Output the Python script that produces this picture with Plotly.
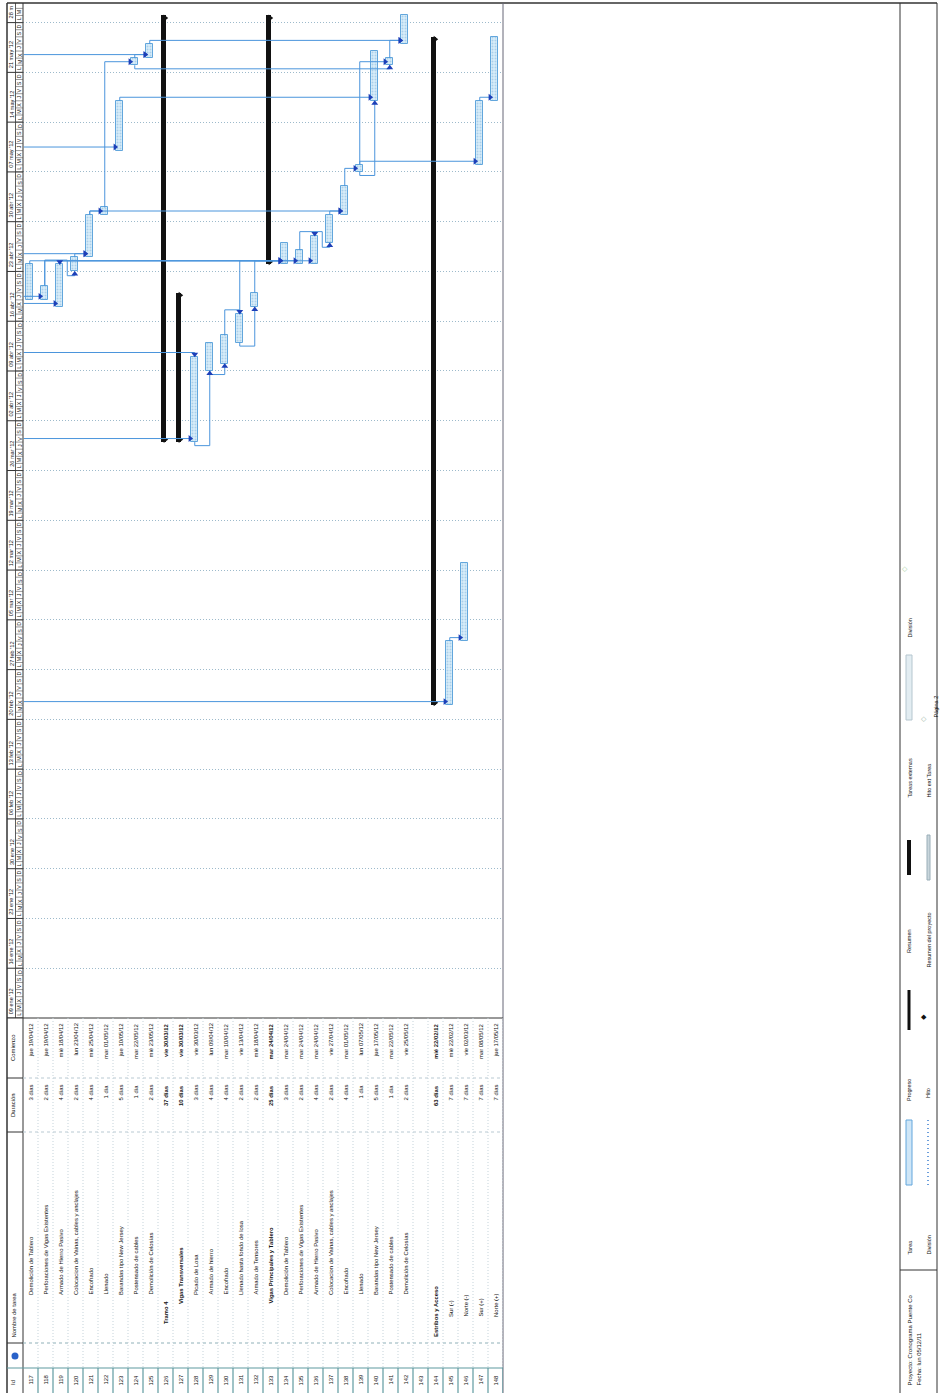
import plotly.graph_objects as go
from datetime import datetime, timedelta

W, H = 941, 1393
DAY_MS = 86400000

# ---------------- data ----------------
ids = list(range(117, 149))
names = [
    "Demolición de Tablero", "Perforaciones de Vigas Existentes", "Armado de Hierro Pasivo",
    "Colocacion de Vainas, cables y anclajes", "Encofrado", "Llenado", "Barandas tipo New Jersey",
    "Postensado de cables", "Demolición de Celosías", "Tramo 4", "Vigas Transversales",
    "Picado de Losa", "Armado de hierro", "Encofrado", "Llenado hasta fondo de losa",
    "Armado de Tensores", "Vigas Principales y Tablero", "Demolición de Tablero",
    "Perforaciones de Vigas Existentes", "Armado de Hierro Pasivo",
    "Colocacion de Vainas, cables y anclajes", "Encofrado", "Llenado", "Barandas tipo New Jersey",
    "Postensado de cables", "Demolición de Celosías", "", "Estribos y Acceso",
    "Sur (-)", "Norte (-)", "Sur (+)", "Norte (+)",
]
durations = [
    "3 días", "2 días", "4 días", "2 días", "4 días", "1 día", "5 días", "1 día", "2 días",
    "37 días", "10 días", "3 días", "4 días", "4 días", "2 días", "2 días", "25 días",
    "3 días", "2 días", "4 días", "2 días", "4 días", "1 día", "5 días", "1 día", "2 días",
    "", "63 días", "7 días", "7 días", "7 días", "7 días",
]
start_labels = [
    "jue 19/04/12", "jue 19/04/12", "mié 18/04/12", "lun 23/04/12", "mié 25/04/12",
    "mar 01/05/12", "jue 10/05/12", "mar 22/05/12", "mié 23/05/12", "vie 30/03/12",
    "vie 30/03/12", "vie 30/03/12", "lun 09/04/12", "mar 10/04/12", "vie 13/04/12",
    "mié 18/04/12", "mar 24/04/12", "mar 24/04/12", "mar 24/04/12", "mar 24/04/12",
    "vie 27/04/12", "mar 01/05/12", "lun 07/05/12", "jue 17/05/12", "mar 22/05/12",
    "vie 25/05/12", "", "mié 22/02/12", "mié 22/02/12", "vie 02/03/12", "mar 08/05/12",
    "jue 17/05/12",
]
# bar start / finish (finish = end of last working day)
bar_start = [
    "2012-04-19", "2012-04-19", "2012-04-18", "2012-04-23", "2012-04-25", "2012-05-01",
    "2012-05-10", "2012-05-22", "2012-05-23", "2012-03-30", "2012-03-30", "2012-03-30",
    "2012-04-09", "2012-04-10", "2012-04-13", "2012-04-18", "2012-04-24", "2012-04-24",
    "2012-04-24", "2012-04-24", "2012-04-27", "2012-05-01", "2012-05-07", "2012-05-17",
    "2012-05-22", "2012-05-25", None, "2012-02-22", "2012-02-22", "2012-03-02",
    "2012-05-08", "2012-05-17",
]
bar_end = [
    "2012-04-24", "2012-04-21", "2012-04-24", "2012-04-25", "2012-05-01", "2012-05-02",
    "2012-05-17", "2012-05-23", "2012-05-25", "2012-05-29", "2012-04-20", "2012-04-11",
    "2012-04-13", "2012-04-14", "2012-04-17", "2012-04-20", "2012-05-29", "2012-04-27",
    "2012-04-26", "2012-04-28", "2012-05-01", "2012-05-05", "2012-05-08", "2012-05-24",
    "2012-05-23", "2012-05-29", None, "2012-05-26", "2012-03-02", "2012-03-13",
    "2012-05-17", "2012-05-26",
]
kinds = ["task"] * 9 + ["summary", "summary"] + ["task"] * 5 + ["summary"] + ["task"] * 9 + \
        ["empty", "summary"] + ["task"] * 4
# outline level of each row (0 = top level)
levels = [3] * 9 + [1, 2] + [3] * 5 + [2] + [3] * 9 + [3, 0] + [1] * 4

# dependency links: (predecessor id or None for previous page, successor id, type)
links = [
    (None, 118, "OFF"), (None, 119, "OFF"), (117, 134, "FS"), (118, 135, "FS"), (119, 136, "FS"),
    (118, 119, "FF"), (119, 120, "FSN"), (120, 121, "FS"), (None, 121, "OFF"), (121, 122, "FS"),
    (121, 138, "FS"), (122, 124, "FS"), (None, 123, "OFF"), (123, 140, "FS"), (124, 125, "FS"),
    (None, 125, "OFF"), (125, 142, "FS"), (124, 141, "SS"), (None, 128, "OFF"), (None, 128, "FF"),
    (128, 129, "SS"), (129, 130, "SS"), (130, 131, "FF"), (131, 132, "SS"), (131, 134, "FS"),
    (132, 134, "FS"), (135, 136, "FF"), (136, 137, "FSN"), (137, 138, "FS"), (138, 139, "FS"),
    (139, 140, "SS"), (139, 141, "FS"), (139, 147, "FS"), (141, 142, "FS"), (None, 145, "OFF"),
    (145, 146, "FS"), (147, 148, "FS"),
]

week_labels = ["09 ene '12", "16 ene '12", "23 ene '12", "30 ene '12", "06 feb '12", "13 feb '12",
               "20 feb '12", "27 feb '12", "05 mar '12", "12 mar '12", "19 mar '12", "26 mar '12",
               "02 abr '12", "09 abr '12", "16 abr '12", "23 abr '12", "30 abr '12", "07 may '12",
               "14 may '12", "21 may '12", "28 m"]
day_letters = ["L", "M", "X", "J", "V", "S", "D"]

# ---------------- helpers ----------------
FONT = "Liberation Sans, Arial, sans-serif"
def PX(x): return x / W
def PY(y): return 1 - y / H
def D(s): return datetime.strptime(s, "%Y-%m-%d")
def sh(t, days): return t + timedelta(days=days)

T0 = datetime(2012, 1, 9)
PPD = 7.11
Y_BOTTOM, Y_TOP = 1018, 3
t_top = T0 + timedelta(days=(Y_BOTTOM - Y_TOP) / PPD)

fig = go.Figure()

idx = {r: i for i, r in enumerate(ids)}

# task bars
tx, tb, ty = [], [], []
sx, sb, sy = [], [], []
for r, k, s, e in zip(ids, kinds, bar_start, bar_end):
    if k == "empty":
        continue
    dur = (D(e) - D(s)).total_seconds() * 1000
    if k == "task":
        tx.append(r); tb.append(s); ty.append(dur)
    else:
        sx.append(r); sb.append(s); sy.append(dur)

fig.add_trace(go.Bar(
    x=tx, y=ty, base=tb, width=0.45, offset=-0.27,
    marker=dict(color="#cfe6f7", line=dict(color="#62a6dc", width=1),
                pattern=dict(shape=".", fgcolor="#7fb2dc", bgcolor="#d9edf9", size=3, solidity=0.35)),
    showlegend=False, hoverinfo="skip"))
fig.add_trace(go.Bar(
    x=sx, y=sy, base=sb, width=0.3, offset=-0.3,
    marker=dict(color="#111111", line=dict(width=0)),
    showlegend=False, hoverinfo="skip"))

# summary end caps
cx, cy = [], []
for r, k, s, e in zip(ids, kinds, bar_start, bar_end):
    if k == "summary":
        cx += [r - 0.02, r - 0.02]
        cy += [sh(D(e), -0.35), sh(D(s), 0.35)]
fig.add_trace(go.Scatter(x=cx, y=cy, mode="markers",
                         marker=dict(symbol="triangle-right", size=6, color="#111111"),
                         showlegend=False, hoverinfo="skip"))

# links
lx, ly = [], []
ax_r, ay_r = [], []   # arrows pointing right
ax_u, ay_u = [], []   # arrows pointing up
ax_d, ay_d = [], []   # arrows pointing down
LEFT = 116.55
for p, s, t in links:
    js = idx[s]
    xs = s - 0.05
    ss, es = D(bar_start[js]), D(bar_end[js])
    if p is not None:
        jp = idx[p]
        xp = p - 0.05
        sp, ep = D(bar_start[jp]), D(bar_end[jp])
    if t == "OFF":
        yh = sh(ss, 0.5)
        lx += [LEFT, s - 0.33, None]; ly += [yh, yh, None]
        ax_r.append(s - 0.36); ay_r.append(yh)
    elif t == "FS":
        yh = sh(max(ss, ep), 0.5)
        lx += [xp, xp, s - 0.33, None]; ly += [ep, yh, yh, None]
        ax_r.append(s - 0.36); ay_r.append(yh)
    elif t == "SS":
        yl = sh(sp, -0.5)
        lx += [xp, xp, xs, xs, None]; ly += [sp, yl, yl, ss, None]
        ax_u.append(xs); ay_u.append(sh(ss, -0.35))
    elif t == "FF":
        if p is None:
            yt = sh(es, 0.6)
            lx += [LEFT, xs, xs, None]; ly += [yt, yt, es, None]
        else:
            yt = sh(max(ep, es), 0.6)
            lx += [xp, xp, xs, xs, None]; ly += [ep, yt, yt, es, None]
        ax_d.append(xs); ay_d.append(sh(es, 0.35))
    elif t == "FSN":
        yt = sh(ep, 0.6)
        yl = sh(ss, -0.6)
        xm = (xp + xs) / 2
        lx += [xp, xp, xm, xm, xs, xs, None]; ly += [ep, yt, yt, yl, yl, ss, None]
        ax_u.append(xs); ay_u.append(sh(ss, -0.35))

fig.add_trace(go.Scatter(x=lx, y=ly, mode="lines", line=dict(color="#4b95dc", width=1),
                         showlegend=False, hoverinfo="skip"))
for axx, ayy, sym in [(ax_r, ay_r, "triangle-right"), (ax_u, ay_u, "triangle-up"),
                      (ax_d, ay_d, "triangle-down")]:
    fig.add_trace(go.Scatter(x=axx, y=ayy, mode="markers",
                             marker=dict(symbol=sym, size=6, color="#1d3fb8"),
                             showlegend=False, hoverinfo="skip"))

# ---------------- shapes ----------------
shapes = []
def line_px(x0, y0, x1, y1, color="#222", width=1, dash="solid"):
    shapes.append(dict(type="line", xref="paper", yref="paper", x0=PX(x0), y0=PY(y0),
                       x1=PX(x1), y1=PY(y1), line=dict(color=color, width=width, dash=dash)))

# frame
line_px(7, 3, 937, 3, "#333", 1.5)
line_px(7, 3, 7, H, "#333", 1.5)
line_px(503, 3, 503, H, "#667", 1)
line_px(900, 3, 900, H, "#333", 1)
line_px(937, 3, 937, H, "#333", 1)
line_px(23, 3, 23, H, "#333", 1)
line_px(15.5, 3, 15.5, 1018, "#333", 0.8)
# table column separators
line_px(7, 1018, 503, 1018, "#333", 1)
line_px(23, 1078, 503, 1078, "#b9c9d2", 1, "dot")
line_px(23, 1132, 503, 1132, "#b9c9d2", 1, "dot")
line_px(23, 1343, 503, 1343, "#8fb0b8", 1, "dot")
line_px(7, 1368, 503, 1368, "#5f9aa0", 1.2)
line_px(7, 1078, 23, 1078, "#333", 1)
line_px(7, 1132, 23, 1132, "#333", 1)
line_px(7, 1343, 23, 1343, "#333", 1)
# row separators
for r in ids:
    b = r + 0.5
    shapes.append(dict(type="line", xref="x", yref="paper", x0=b, x1=b, y0=PY(1018), y1=PY(1368),
                       line=dict(color="#c5d3da", width=1, dash="1px,2px")))
    shapes.append(dict(type="line", xref="x", yref="paper", x0=b, x1=b, y0=PY(1368), y1=PY(H),
                       line=dict(color="#5f9aa0", width=1.2)))
# timescale boxes
for w in range(len(week_labels)):
    t = sh(T0, 7 * w)
    shapes.append(dict(type="line", xref="paper", yref="y", x0=PX(7), x1=PX(23), y0=t, y1=t,
                       line=dict(color="#333", width=1)))
n_days = int((t_top - T0).days) + 1
for dd in range(n_days):
    t = sh(T0, dd)
    shapes.append(dict(type="line", xref="paper", yref="y", x0=PX(15.5), x1=PX(23), y0=t, y1=t,
                       line=dict(color="#555", width=0.6)))

# footer separators
line_px(900, 1270, 937, 1270, "#333", 1)

# ---------------- annotations ----------------
ann = []
def txt(x, y, text, xref="paper", yref="paper", size=5.9, ya="middle", xa="center", bold=False,
        color="#111"):
    if bold:
        text = "<b>" + text + "</b>"
    ann.append(dict(x=x, y=y, xref=xref, yref=yref, text=text, showarrow=False, textangle=-90,
                    xanchor=xa, yanchor=ya, font=dict(family=FONT, size=size, color=color)))

name_base = {0: 1339, 1: 1326, 2: 1306, 3: 1297}
for r, nm, du, st, k, lv in zip(ids, names, durations, start_labels, kinds, levels):
    bold = k == "summary"
    txt(r, PY(1380), str(r), xref="x", size=5.9)
    if nm:
        base = name_base[lv] if not (lv == 1 and k == "task") else 1319
        txt(r, PY(base), nm, xref="x", ya="bottom", bold=bold)
    if du:
        txt(r, PY(1083), du, xref="x", ya="top", bold=bold)
    if st:
        txt(r, PY(1022), st, xref="x", ya="top", bold=bold)

# header row
txt(PX(13), PY(1383), "Id")
txt(PX(13), PY(1340), "Nombre de tarea", ya="bottom")
txt(PX(13), PY(1105), "Duración")
txt(PX(13), PY(1048), "Comienzo")
shapes.append(dict(type="circle", xref="paper", yref="paper", x0=PX(11.5), x1=PX(18.5),
                   y0=PY(1359.5), y1=PY(1352.5), fillcolor="#2a62c9", line=dict(width=0)))
ann.append(dict(x=PX(15), y=PY(1356), xref="paper", yref="paper", text="<b>i</b>", showarrow=False,
                font=dict(family=FONT, size=5, color="white")))

# timescale labels
for w, lab in enumerate(week_labels):
    t = sh(T0, 7 * w)
    ann.append(dict(x=PX(11.3), y=t, xref="paper", yref="y", text=lab, showarrow=False,
                    textangle=-90, xanchor="center", yanchor="bottom", yshift=2,
                    font=dict(family=FONT, size=5.6, color="#111")))
for dd in range(n_days - 1):
    t = sh(T0, dd + 0.5)
    ann.append(dict(x=PX(19.3), y=t, xref="paper", yref="y", text=day_letters[dd % 7],
                    showarrow=False, textangle=-90, xanchor="center", yanchor="middle",
                    font=dict(family=FONT, size=5.3, color="#111")))

# footer legend
txt(PX(909), PY(1388), "Proyecto: Cronograma Puente Co", ya="bottom", size=6)
txt(PX(918), PY(1388), "Fecha: lun 05/12/11", ya="bottom", size=6)
legend_row1 = [("Tarea", 1257), ("Progreso", 1103), ("Resumen", 955), ("Tareas externas", 800),
               ("División", 640)]
legend_row2 = [("División", 1257), ("Hito", 1100), ("Resumen del proyecto", 970),
               ("Hito ext Tarea", 800)]
for lab, yb in legend_row1:
    txt(PX(909), PY(yb), lab, ya="bottom", size=5.5)
for lab, yb in legend_row2:
    txt(PX(928), PY(yb), lab, ya="bottom", size=5.5)
txt(PX(935.5), PY(720), "Página 2", ya="bottom", size=5.5)

# legend samples (decorative)
shapes.append(dict(type="rect", xref="paper", yref="paper", x0=PX(906), x1=PX(912), y0=PY(1185),
                   y1=PY(1120), fillcolor="#cfe6f7", line=dict(color="#62a6dc", width=1)))
shapes.append(dict(type="rect", xref="paper", yref="paper", x0=PX(907.5), x1=PX(910.5),
                   y0=PY(1030), y1=PY(990), fillcolor="#111", line=dict(width=0)))
shapes.append(dict(type="rect", xref="paper", yref="paper", x0=PX(907), x1=PX(911),
                   y0=PY(875), y1=PY(840), fillcolor="#111", line=dict(width=0)))
shapes.append(dict(type="rect", xref="paper", yref="paper", x0=PX(906), x1=PX(912), y0=PY(720),
                   y1=PY(655), fillcolor="#e3edf2", line=dict(color="#b5c6cf", width=1)))
shapes.append(dict(type="line", xref="paper", yref="paper", x0=PX(928), x1=PX(928), y0=PY(1185),
                   y1=PY(1120), line=dict(color="#3c7fd0", width=1.5, dash="1px,3px")))
shapes.append(dict(type="rect", xref="paper", yref="paper", x0=PX(927), x1=PX(930), y0=PY(880),
                   y1=PY(835), fillcolor="#c9d6dc", line=dict(color="#9aaeb8", width=1)))
ann.append(dict(x=PX(928.5), y=PY(1022), xref="paper", yref="paper", text="◆", showarrow=False,
                font=dict(family=FONT, size=7, color="#111")))
ann.append(dict(x=PX(928.5), y=PY(718), xref="paper", yref="paper", text="◇", showarrow=False,
                font=dict(family=FONT, size=7, color="#9fb8a8")))
ann.append(dict(x=PX(910), y=PY(568), xref="paper", yref="paper", text="◇", showarrow=False,
                font=dict(family=FONT, size=7, color="#a8d0a0")))

fig.update_layout(
    width=W, height=H, margin=dict(l=0, r=0, t=0, b=0),
    paper_bgcolor="white", plot_bgcolor="white",
    barmode="overlay", bargap=0,
    shapes=shapes, annotations=ann,
    xaxis=dict(domain=[PX(23), PX(503)], range=[116.5, 148.5], showgrid=False, zeroline=False,
               showticklabels=False, ticks="", fixedrange=True),
    yaxis=dict(domain=[PY(Y_BOTTOM), PY(Y_TOP)], type="date", range=[T0, t_top], showgrid=True,
               gridcolor="#9dbacb", griddash="1px,2px", gridwidth=1, dtick=7 * DAY_MS,
               tick0="2012-01-09", showticklabels=False, ticks="", zeroline=False, fixedrange=True),
)

fig.write_html("out.html", config={"displayModeBar": False},
               post_script="document.body.style.margin='0';document.body.style.padding='0';")
